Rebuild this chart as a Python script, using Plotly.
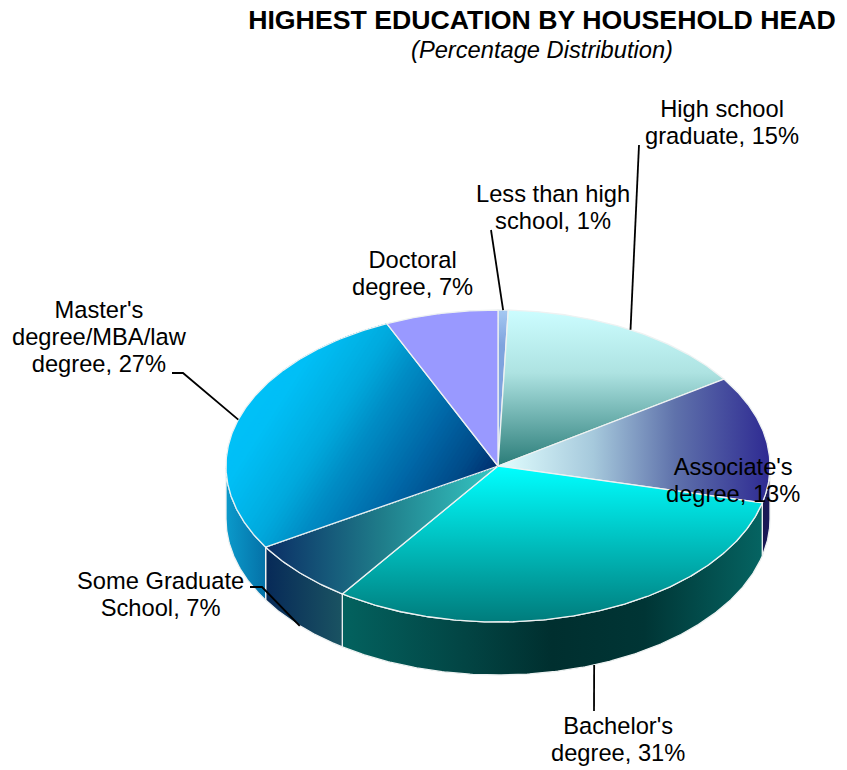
import numpy as np
import plotly.graph_objects as go
from plotly.colors import sample_colorscale

# ---- data (clockwise from 12 o'clock) ----
categories = ["Less than high school", "High school graduate", "Associate's degree",
              "Bachelor's degree", "Some Graduate School",
              "Master's degree/MBA/law degree", "Doctoral degree"]
shares = [0.6, 15.0, 13.2, 30.9, 6.6, 27.0, 6.7]
label_lines = [["Less than high", "school, {}%"], ["High school", "graduate, {}%"],
               ["Associate's", "degree, {}%"], ["Bachelor's", "degree, {}%"],
               ["Some Graduate", "School, {}%"],
               ["Master's", "degree/MBA/law", "degree, {}%"], ["Doctoral", "degree, {}%"]]
title_text = "HIGHEST EDUCATION BY HOUSEHOLD HEAD"
subtitle_text = "(Percentage Distribution)"

# ---- layout of the drawing ----
W, H = 847, 770
CX, CY, RX, RY, DEPTH = 498, 466, 272, 156, 53
EDGE = "#eef2f2"
FONT = "Liberation Sans, Arial, sans-serif"
LABEL_SIZE = 23.7
LABEL_BASE = 20.8   # sets the line pitch

# (center x, center y) of each label block
label_pos = [(553, 207), (722, 122), (733, 480), (618, 739), (160, 594), (99, 337), (412, 273)]
# leader line: start points (bend included); the end is derived from the slice mid-angle
leader_start = {0: [(491, 230)], 1: [(639, 145)], 3: [(594, 711)],
                4: [(250, 587), (262, 587)], 5: [(172, 373), (183, 373)]}
leader_on_wall = {3, 4}

# a diagonal gradient for the Master's slice: unit direction, span ending at the pie centre
DIAG_DIR = (0.84, 0.54)
DIAG_SPAN = 245
DIAG_STEPS = 70
diag_scale = [[0, "#00c0f8"], [0.1, "#00bff6"], [0.25, "#00b2e6"], [0.335, "#00a8dc"], [0.475, "#008cc4"],
              [0.70, "#0066a6"], [0.88, "#004a88"], [1, "#002c6c"]]

top_grad = {
    0: dict(type="vertical", start=310, stop=345, colorscale=[[0, "#a5c9f2"], [1, "#7fa3de"]]),
    1: dict(type="vertical", start=310, stop=466, colorscale=[[0, "#ccfdff"], [0.4, "#aee3e2"], [1, "#2a7c78"]]),
    2: dict(type="horizontal", start=498, stop=770, colorscale=[[0, "#e2ffff"], [0.35, "#a6c9dc"], [0.65, "#5f72ab"], [1, "#2e2a92"]]),
    3: dict(type="vertical", start=466, stop=622, colorscale=[[0, "#00ffff"], [1, "#007c7c"]]),
    4: dict(type="horizontal", start=267, stop=498, colorscale=[[0, "#0b2f66"], [0.5, "#1f7d8a"], [1, "#36c8c4"]]),
    6: dict(type="vertical", start=310, stop=466, colorscale=[[0, "#9999ff"], [1, "#9999ff"]]),
}
wall_grad = {
    2: dict(type="horizontal", start=762, stop=770, colorscale=[[0, "#1a1850"], [1, "#1a1a5c"]]),
    3: dict(type="horizontal", start=342, stop=762, colorscale=[[0, "#03625f"], [0.3, "#024443"], [0.5, "#002f2f"], [0.72, "#003535"], [1, "#056462"]]),
    4: dict(type="horizontal", start=267, stop=342, colorscale=[[0, "#072a58"], [1, "#1a5362"]]),
    5: dict(type="horizontal", start=226, stop=267, colorscale=[[0, "#0b9acb"], [1, "#0470a6"]]),
}

# ---- geometry derived from the shares ----
edges = np.concatenate([[0.0], np.cumsum(shares)]) / np.sum(shares) * 2 * np.pi


def px(t):
    return CX + RX * np.sin(t)


def py(t):
    return CY - RY * np.cos(t)


def arc(a, b):
    n = max(2, int(np.degrees(b - a) * 2) + 1)
    return np.linspace(a, b, n)


def clip_beyond(x, y, level):
    """Part of the polygon lying past `level` along DIAG_DIR."""
    d = (x - CX) * DIAG_DIR[0] + (y - CY) * DIAG_DIR[1] - level
    ox, oy = [], []
    for k in range(len(x)):
        j = (k + 1) % len(x)
        if d[k] >= 0:
            ox.append(x[k]); oy.append(y[k])
        if d[k] * d[j] < 0:
            s = d[k] / (d[k] - d[j])
            ox.append(x[k] + s * (x[j] - x[k])); oy.append(y[k] + s * (y[j] - y[k]))
    return ox, oy


fig = go.Figure()


def poly(x, y, grad):
    fig.add_trace(go.Scatter(x=list(x), y=list(y), mode="lines", fill="toself",
                             fillgradient=grad, line=dict(color=EDGE, width=1.3),
                             hoverinfo="skip", showlegend=False))


# side walls (front half of the rim)
for i, grad in wall_grad.items():
    a, b = max(edges[i], np.pi / 2), min(edges[i + 1], 3 * np.pi / 2)
    t = arc(a, b)
    x = np.concatenate([px(t), px(t[::-1]), px(t[:1])])
    y = np.concatenate([py(t), py(t[::-1]) + DEPTH, py(t[:1])])
    poly(x, y, grad)

# top faces
for i in range(len(shares)):
    t = arc(edges[i], edges[i + 1])
    x = np.concatenate([[CX], px(t), [CX]])
    y = np.concatenate([[CY], py(t), [CY]])
    if i in top_grad:
        poly(x, y, top_grad[i])
        continue
    # diagonal gradient: nested fills, each painted over the one before it
    fx, fy = x[:-1], y[:-1]
    pos = np.linspace(0, 1, DIAG_STEPS)
    cols = sample_colorscale(diag_scale, pos)
    for p, col in zip(pos, cols):
        level = -1e6 if p == 0 else (p - 1) * DIAG_SPAN   # first layer covers the whole slice
        ox, oy = clip_beyond(fx, fy, level)
        if len(ox) < 3:
            continue
        fig.add_trace(go.Scatter(x=ox + ox[:1], y=oy + oy[:1], mode="lines", fill="toself",
                                 fillcolor=col, line=dict(width=0),
                                 hoverinfo="skip", showlegend=False))
    fig.add_trace(go.Scatter(x=list(x), y=list(y), mode="lines", line=dict(color=EDGE, width=1.3),
                             hoverinfo="skip", showlegend=False))

# leader lines
for i, pts in leader_start.items():
    mid = (edges[i] + edges[i + 1]) / 2
    lx = [p[0] for p in pts] + [px(mid)]
    ly = [p[1] for p in pts] + [py(mid) + (DEPTH if i in leader_on_wall else 0)]
    fig.add_trace(go.Scatter(x=lx, y=ly, mode="lines", line=dict(color="black", width=1.8),
                             hoverinfo="skip", showlegend=False))

# labels
for lines, (lx, ly), s in zip(label_lines, label_pos, shares):
    text = "<br>".join(f"<span style='font-size:{LABEL_SIZE}px'>{ln}</span>" for ln in lines).format(round(s))
    fig.add_annotation(x=lx, y=ly, xref="x", yref="y", text=text, showarrow=False,
                       align="center", xanchor="center", yanchor="middle",
                       font=dict(family=FONT, size=LABEL_BASE, color="black"))

fig.update_layout(
    width=W, height=H, margin=dict(l=0, r=0, t=0, b=0),
    paper_bgcolor="white", plot_bgcolor="white", showlegend=False,
    title=dict(text=f"<span style='font-size:26.7px'><b>{title_text}</b></span><br>"
                    f"<span style='font-size:23.7px'><i>{subtitle_text}</i></span>",
               x=542 / W, xanchor="center", xref="paper", y=1 - 29 / H, yanchor="top", yref="paper",
               font=dict(family=FONT, size=22.3, color="black")),
    xaxis=dict(range=[0, W], visible=False, fixedrange=True),
    yaxis=dict(range=[H, 0], visible=False, fixedrange=True),
)

fig.write_html("out.html", config=dict(displayModeBar=False),
               post_script="document.body.style.margin='0';document.body.style.overflow='hidden';")
